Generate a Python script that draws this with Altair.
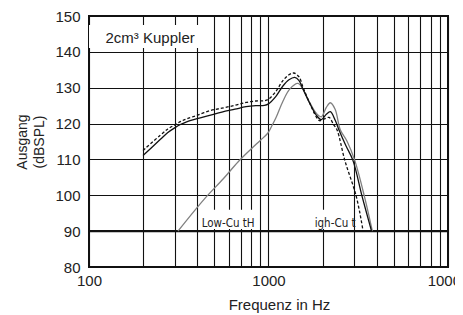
import altair as alt
import pandas as pd

# ---------------- data ----------------
solid_freq = [200, 250, 275, 300, 325, 350, 400, 470, 550, 650, 750, 850, 950, 1000, 1100, 1200, 1300, 1400,
              1480, 1560, 1700, 1850, 1970, 2100, 2210, 2350, 2470, 2700, 2950, 3330, 3750]
solid_db = [111.1, 115.6, 117.5, 118.8, 119.8, 120.5, 121.4, 122.3, 123.2, 124.0, 124.7, 125.0, 125.1, 125.5,
            127.6, 130.4, 132.2, 132.9, 132.0, 129.5, 125.6, 122.3, 121.1, 122.6, 123.3, 121.0, 118.2, 113.8,
            109.8, 99.5, 90.0]

dashed_freq = [200, 250, 275, 300, 325, 350, 400, 470, 550, 650, 750, 850, 950, 1000, 1100, 1200, 1300, 1385,
               1480, 1560, 1700, 1850, 1925, 2050, 2175, 2300, 2410, 2660, 3090, 3365]
dashed_db = [112.5, 116.8, 118.5, 119.6, 120.6, 121.3, 122.3, 123.6, 124.3, 125.1, 125.9, 126.3, 126.4, 126.8,
             129.0, 131.9, 133.6, 134.1, 133.0, 130.0, 125.6, 121.8, 120.8, 121.3, 121.7, 119.8, 118.2, 109.8,
             99.5, 90.0]

gray_freq = [313, 440, 560, 676, 800, 900, 990, 1040, 1100, 1205, 1313, 1459, 1560, 1700,
             1850, 1970, 2100, 2210, 2350, 2515, 2730, 3020, 3430, 3790]
gray_db = [90.0, 99.0, 104.6, 109.3, 112.9, 115.3, 117.3, 119.2, 121.6, 126.3, 129.6, 131.2, 129.5, 125.8,
           122.8, 121.9, 124.5, 125.8, 124.0, 118.2, 115.2, 109.8, 99.5, 90.0]

grid_freqs = [100, 200, 300, 400, 500, 600, 700, 800, 900,
              1000, 2000, 3000, 4000, 5000, 6000, 7000, 8000, 9000, 10000]
label_freqs = [100, 1000, 10000]
db_ticks = [80, 90, 100, 110, 120, 130, 140, 150]
heavy_db = [90]

# annotations (text and the white boxes behind them)
note_text = ["2cm³ Kuppler", "Low-Cu tH", "igh-Cu t"]
note_freq = [219, 596, 2350]
note_db = [142.5, 91.2, 91.2]
box_f1 = [100, 413, 1741]
box_f2 = [414, 850, 2944]
box_d1 = [141.1, 90.6, 90.6]
box_d2 = [147.5, 96.0, 96.0]
frame_f = [100, 10000]
frame_d = [80, 150]

FONT = "'Liberation Sans', Arial, sans-serif"
COND = "'DejaVu Sans Condensed', 'Liberation Sans', Arial, sans-serif"

rows = []
for name, fs, ds in [("gray", gray_freq, gray_db), ("solid", solid_freq, solid_db),
                     ("dashed", dashed_freq, dashed_db)]:
    for f, d in zip(fs, ds):
        rows.append({"freq": f, "db": d, "series": name})
curves = pd.DataFrame(rows)

x_scale = alt.Scale(type="log", domain=[100, 10000], nice=False)
y_scale = alt.Scale(domain=[80, 150], nice=False, zero=False)

lbl_expr = "(datum.value == 100 || datum.value == 1000 || datum.value == 10000) ? format(datum.value, 'd') : ''"

x_axis = alt.Axis(values=grid_freqs, grid=True, gridColor="#111", gridWidth=1.1, gridOpacity=1,
                  ticks=False, domain=False, labelExpr=lbl_expr, labelFlush=False, labelOverlap=False,
                  labelFont=FONT, labelFontSize=15, labelColor="#222", labelPadding=6,
                  title="Frequenz in Hz", titleFont=FONT, titleFontSize=15, titleFontWeight="normal",
                  titleColor="#222", titleBaseline="alphabetic", titleY=42, titleX=190,
                  titleAlign="center")
y_axis = alt.Axis(values=db_ticks, grid=True, gridColor="#111", gridWidth=1.1, gridOpacity=1,
                  ticks=False, domain=False, labelFont=FONT, labelFontSize=15, labelColor="#222",
                  labelPadding=9,
                  title=["Ausgang", "(dBSPL)"], titleFont=FONT, titleFontSize=14, titleFontWeight="normal",
                  titleColor="#222", titleLineHeight=17, titleBaseline="alphabetic", titleX=-63,
                  titleAlign="center")

enc_x = lambda fld: alt.X(fld, scale=x_scale, axis=x_axis)
enc_y = lambda fld: alt.Y(fld, scale=y_scale, axis=y_axis)

# frame layer carries both axes
frame_df = pd.DataFrame({"f1": [frame_f[0]], "f2": [frame_f[1]], "d1": [frame_d[0]], "d2": [frame_d[1]]})
frame = alt.Chart(frame_df).mark_rect(filled=False, stroke="#111", strokeWidth=2).encode(
    x=enc_x("f1:Q"), x2="f2:Q", y=enc_y("d1:Q"), y2="d2:Q")

heavy = alt.Chart(pd.DataFrame({"db": heavy_db})).mark_rule(color="#111", strokeWidth=2.2).encode(
    y=enc_y("db:Q"))

base = alt.Chart(curves).encode(x=enc_x("freq:Q"), y=enc_y("db:Q"))
gray = base.transform_filter(alt.datum.series == "gray").mark_line(
    color="#808080", strokeWidth=1.3, interpolate="catmull-rom")
solid = base.transform_filter(alt.datum.series == "solid").mark_line(
    color="#111", strokeWidth=1.3, interpolate="catmull-rom")
dashed = base.transform_filter(alt.datum.series == "dashed").mark_line(
    color="#111", strokeWidth=1.3, strokeDash=[3, 2], interpolate="catmull-rom")

boxes_df = pd.DataFrame({"f1": box_f1, "f2": box_f2, "d1": box_d1, "d2": box_d2})
boxes = alt.Chart(boxes_df).mark_rect(fill="white").encode(
    x=enc_x("f1:Q"), x2="f2:Q", y=enc_y("d1:Q"), y2="d2:Q")

notes_df = pd.DataFrame({"t": note_text, "f": note_freq, "d": note_db})
title_note = alt.Chart(notes_df.iloc[[0]]).mark_text(
    font=FONT, fontSize=15, color="#222", baseline="alphabetic", align="center").encode(
    x=enc_x("f:Q"), y=enc_y("d:Q"), text="t:N")
cut_notes = alt.Chart(notes_df.iloc[[1, 2]]).mark_text(
    font=COND, fontSize=11.5, color="#222", baseline="alphabetic", align="center").encode(
    x=enc_x("f:Q"), y=enc_y("d:Q"), text="t:N")

chart = alt.layer(frame, heavy, gray, solid, dashed, boxes, title_note, cut_notes).properties(
    width=359, height=251,
    autosize=alt.AutoSizeParams(type="none"),
    padding={"left": 81, "top": 8, "right": 7, "bottom": 46},
).configure_view(stroke=None)

chart.save("out.html", embed_options={"renderer": "svg", "actions": False})
